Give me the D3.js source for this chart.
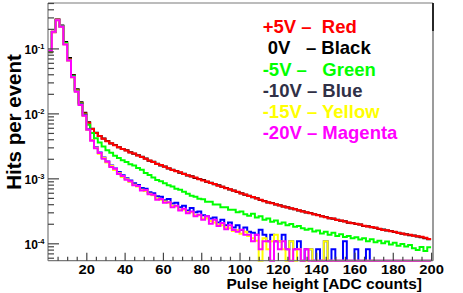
<!DOCTYPE html>
<html><head><meta charset="utf-8">
<script src="https://cdn.jsdelivr.net/npm/d3@7"></script>
<style>
html,body{margin:0;padding:0;background:#fff;}
svg{display:block;font-family:"Liberation Sans",Arial,sans-serif;font-weight:bold;}
</style></head><body>
<svg id="c" width="463" height="293"></svg>
<script>
// ---- data (hits per event, bins of 2 ADC counts from 0 to 200) ----
const binWidth = 2;
const red = [8.9e-2,1.78e-1,2.75e-1,2.19e-1,1.2e-1,6.8e-2,3.8e-2,2.29e-2,1.45e-2,1.0e-2,
7.2e-3,5.75e-3,5.0e-3,4.47e-3,4.07e-3,3.72e-3,3.47e-3,3.24e-3,3.02e-3,2.82e-3,
2.69e-3,2.51e-3,2.42e-3,2.24e-3,2.14e-3,2.0e-3,1.88e-3,1.78e-3,1.66e-3,1.6e-3,
1.51e-3,1.43e-3,1.35e-3,1.29e-3,1.24e-3,1.17e-3,1.12e-3,1.07e-3,1.03e-3,9.7e-4,
9.3e-4,8.95e-4,8.5e-4,8.15e-4,7.7e-4,7.45e-4,7.05e-4,6.8e-4,6.45e-4,6.2e-4,
5.85e-4,5.65e-4,5.35e-4,5.15e-4,4.88e-4,4.7e-4,4.45e-4,4.3e-4,4.15e-4,3.98e-4,
3.82e-4,3.7e-4,3.56e-4,3.45e-4,3.33e-4,3.22e-4,3.1e-4,3.0e-4,2.9e-4,2.8e-4,
2.7e-4,2.62e-4,2.52e-4,2.44e-4,2.41e-4,2.28e-4,2.25e-4,2.17e-4,2.1e-4,2.03e-4,
2.0e-4,1.94e-4,1.87e-4,1.81e-4,1.79e-4,1.73e-4,1.67e-4,1.61e-4,1.59e-4,1.54e-4,
1.51e-4,1.44e-4,1.42e-4,1.37e-4,1.35e-4,1.31e-4,1.28e-4,1.26e-4,1.22e-4,1.17e-4];
const black = [8.7e-2,1.8e-1,2.78e-1,2.25e-1,1.25e-1,7.1e-2,3.9e-2,2.35e-2,1.48e-2,1.02e-2,
7.3e-3,5.8e-3,5.05e-3,4.5e-3,4.1e-3,3.75e-3,3.45e-3,3.25e-3,3.0e-3,2.84e-3,
2.7e-3,2.53e-3,2.4e-3,2.26e-3,2.15e-3,2.02e-3,1.87e-3,1.8e-3,1.68e-3,1.58e-3,
1.52e-3,1.42e-3,1.36e-3,1.3e-3,1.22e-3,1.18e-3,1.11e-3,1.08e-3,1.01e-3,9.8e-4,
9.4e-4,8.85e-4,8.55e-4,8.1e-4,7.8e-4,7.4e-4,7.1e-4,6.75e-4,6.5e-4,6.15e-4,
5.9e-4,5.6e-4,5.4e-4,5.1e-4,4.92e-4,4.65e-4,4.5e-4,4.25e-4,4.18e-4,3.95e-4,
3.85e-4,3.68e-4,3.58e-4,3.42e-4,3.35e-4,3.2e-4,3.12e-4,2.98e-4,2.92e-4,2.79e-4,
2.72e-4,2.6e-4,2.54e-4,2.43e-4,2.38e-4,2.3e-4,2.23e-4,2.18e-4,2.08e-4,2.05e-4,
1.98e-4,1.95e-4,1.85e-4,1.83e-4,1.77e-4,1.74e-4,1.66e-4,1.63e-4,1.57e-4,1.55e-4,
1.49e-4,1.46e-4,1.4e-4,1.38e-4,1.33e-4,1.32e-4,1.27e-4,1.24e-4,1.2e-4,1.15e-4];
const green = [9.0e-2,1.79e-1,2.74e-1,2.2e-1,1.21e-1,6.7e-2,3.75e-2,2.25e-2,1.42e-2,9.6e-3,
6.7e-3,5.0e-3,4.15e-3,3.55e-3,3.1e-3,2.7e-3,2.47e-3,2.22e-3,2.06e-3,1.9e-3,
1.79e-3,1.65e-3,1.57e-3,1.44e-3,1.36e-3,1.21e-3,1.13e-3,1.03e-3,9.4e-4,9.0e-4,
8.4e-4,7.8e-4,7.5e-4,6.9e-4,6.7e-4,6.2e-4,5.8e-4,5.4e-4,5.2e-4,4.85e-4,
4.75e-4,4.35e-4,4.35e-4,3.95e-4,3.95e-4,3.6e-4,3.6e-4,3.3e-4,3.3e-4,3.0e-4,
3.1e-4,2.8e-4,2.65e-4,2.85e-4,2.5e-4,2.6e-4,2.3e-4,2.4e-4,2.15e-4,2.25e-4,
2.0e-4,2.1e-4,1.9e-4,1.98e-4,1.8e-4,1.85e-4,1.7e-4,1.62e-4,1.68e-4,1.52e-4,
1.58e-4,1.42e-4,1.5e-4,1.36e-4,1.45e-4,1.3e-4,1.38e-4,1.25e-4,1.3e-4,1.2e-4,
1.24e-4,1.14e-4,1.2e-4,1.08e-4,1.16e-4,1.04e-4,1.1e-4,1.0e-4,1.07e-4,9.6e-5,
1.02e-4,9.2e-5,9.8e-5,8.9e-5,9.4e-5,8.4e-5,7.9e-5,8.8e-5,7.6e-5,8.7e-5];
const blue = [9.1e-2,1.79e-1,2.73e-1,2.17e-1,1.17e-1,6.6e-2,3.65e-2,2.2e-2,1.38e-2,9.4e-3,
5.7e-3,3.9e-3,3.0e-3,2.5e-3,2.1e-3,1.82e-3,1.58e-3,1.42e-3,1.25e-3,1.12e-3,
1.0e-3,9.3e-4,8.4e-4,7.9e-4,7.1e-4,6.9e-4,6.1e-4,5.9e-4,5.3e-4,5.2e-4,
4.6e-4,4.8e-4,4.1e-4,4.2e-4,3.6e-4,3.8e-4,3.2e-4,3.5e-4,3.0e-4,3.1e-4,
2.7e-4,2.6e-4,2.4e-4,2.5e-4,2.1e-4,2.3e-4,1.9e-4,2.1e-4,1.75e-4,1.9e-4,
1.6e-4,1.75e-4,1.5e-4,1.45e-4,1.35e-4,1.62e-4,1.35e-4,1.08e-4,1.35e-4,1.08e-4,
1.08e-4,1.35e-4,8.1e-5,1.08e-4,8.1e-5,1.08e-4,5.4e-5,8.1e-5,8.1e-5,5.4e-5,
8.1e-5,5.4e-5,1.08e-4,2.7e-5,8.1e-5,5.4e-5,5.4e-5,1.08e-4,2.7e-5,5.4e-5,
8.1e-5,2.7e-5,5.4e-5,8.1e-5,0,0,0,0,0,0,
0,0,0,0,0,0,0,0,0,0];
const yellow = [9.2e-2,1.8e-1,2.72e-1,2.16e-1,1.16e-1,6.5e-2,3.6e-2,2.17e-2,1.36e-2,9.2e-3,
5.6e-3,3.85e-3,2.95e-3,2.4e-3,2.05e-3,1.75e-3,1.55e-3,1.35e-3,1.2e-3,1.05e-3,
9.7e-4,8.8e-4,8.0e-4,7.5e-4,6.7e-4,6.4e-4,5.8e-4,5.5e-4,4.9e-4,4.7e-4,
4.4e-4,4.2e-4,3.8e-4,3.7e-4,3.3e-4,3.3e-4,3.0e-4,3.0e-4,2.7e-4,2.7e-4,
2.4e-4,2.4e-4,2.2e-4,2.1e-4,1.95e-4,1.9e-4,1.75e-4,1.7e-4,1.55e-4,1.6e-4,
1.4e-4,1.5e-4,1.3e-4,1.2e-4,1.1e-4,4.0e-5,1.2e-4,8.1e-5,1.08e-4,1.35e-4,
1.08e-4,8.1e-5,5.4e-5,1.08e-4,5.4e-5,8.1e-5,5.4e-5,5.4e-5,8.1e-5,2.7e-5,
5.4e-5,2.7e-5,1.08e-4,2.7e-5,5.4e-5,0,2.7e-5,0,0,0,
0,0,0,0,0,0,0,0,0,0,
0,0,0,0,0,5.4e-5,0,0,0,0];
const magenta = [9.2e-2,1.8e-1,2.72e-1,2.15e-1,1.15e-1,6.5e-2,3.6e-2,2.15e-2,1.35e-2,9.2e-3,
5.6e-3,3.8e-3,2.9e-3,2.45e-3,2.0e-3,1.8e-3,1.5e-3,1.4e-3,1.17e-3,1.09e-3,
9.5e-4,9.0e-4,7.8e-4,7.6e-4,6.5e-4,6.6e-4,5.7e-4,5.6e-4,4.7e-4,4.8e-4,
4.2e-4,4.3e-4,3.6e-4,3.8e-4,3.2e-4,3.4e-4,2.9e-4,3.1e-4,2.6e-4,2.75e-4,
2.3e-4,2.6e-4,2.0e-4,2.3e-4,1.85e-4,2.05e-4,1.65e-4,1.9e-4,1.6e-4,1.5e-4,
1.62e-4,1.35e-4,1.35e-4,1.08e-4,1.35e-4,8.1e-5,1.08e-4,1.08e-4,5.4e-5,1.08e-4,
8.1e-5,1.08e-4,8.1e-5,5.4e-5,8.1e-5,8.1e-5,5.4e-5,8.1e-5,2.7e-5,0,
0,0,2.7e-5,0,0,0,5.4e-5,0,0,0,
0,0,0,2.7e-5,0,0,0,0,0,0,
0,0,0,0,0,0,0,0,0,0];

const seriesNames  = ["0V","+5V","-5V","-10V","-15V","-20V"];
const seriesValues = [black, red, green, blue, yellow, magenta];
const seriesColors = ["#000000","#ff0000","#00ff00","#0000ff","#ffff00","#ff00ff"];

const legendLeft   = ["+5V \u2013  ", " 0V   \u2013 ", "-5V \u2013   ", "-10V \u2013 ", "-15V \u2013 ", "-20V \u2013 "];
const legendRight  = ["Red", "Black", "Green", "Blue", "Yellow", "Magenta"];
const legendColors = ["#ff0000","#000000","#00ff00","#303046","#ffff00","#ff00ff"];

const xMajorTicks = [20,40,60,80,100,120,140,160,180,200];
const yMajorTicks = [1e-4,1e-3,1e-2,1e-1];
const yTickExp    = ["-4","-3","-2","-1"];
const xTitle = "Pulse height [ADC counts]";
const yTitle = "Hits per event";

// ---- layout ----
const svg = d3.select("#c");
const L = 48, R = 433, T = 3, B = 260.7;
const x = d3.scaleLinear().domain([0, 201]).range([L, R]);
const y = d3.scaleLog().domain([5.4e-5, 0.5]).range([B, T]);
const yMin = y.domain()[0];

// ---- histograms ----
svg.append("clipPath").attr("id","pc").append("rect")
  .attr("x", L).attr("y", T).attr("width", R - L).attr("height", B - T + 1.5);
const line = d3.line().x(d => d[0]).y(d => d[1]);
const gH = svg.append("g").attr("clip-path","url(#pc)");
seriesValues.forEach((vals, si) => {
  const pts = [];
  vals.forEach((v, i) => {
    const yy = y(Math.max(v, yMin));
    pts.push([x(i * binWidth), yy]);
    pts.push([x((i + 1) * binWidth), yy]);
  });
  gH.append("path").attr("d", line(pts)).attr("fill","none")
    .attr("stroke", seriesColors[si]).attr("stroke-width", 2)
    .attr("stroke-linejoin","miter");
});

// ---- frame ----
const axisCol = "#7a7a7a";
svg.append("line").attr("x1", L).attr("x2", R).attr("y1", T).attr("y2", T).attr("stroke", axisCol).attr("stroke-width", 1.2);
svg.append("line").attr("x1", R).attr("x2", R).attr("y1", T).attr("y2", B).attr("stroke", axisCol).attr("stroke-width", 1.5);
svg.append("line").attr("x1", R).attr("x2", R).attr("y1", T).attr("y2", 31).attr("stroke", "#000").attr("stroke-width", 1.5);
svg.append("line").attr("x1", L).attr("x2", L).attr("y1", T).attr("y2", B).attr("stroke", axisCol).attr("stroke-width", 1.2);
svg.append("line").attr("x1", L).attr("x2", R).attr("y1", B).attr("y2", B).attr("stroke", axisCol).attr("stroke-width", 1.2);

// ---- x axis ----
const xMinor = d3.range(5, 201, 5).filter(v => v % 20 !== 0);
const gxm = svg.append("g").attr("transform", `translate(0,${B})`)
  .call(d3.axisBottom(x).tickValues(xMinor).tickSize(-4).tickFormat(""));
const gx = svg.append("g").attr("transform", `translate(0,${B})`)
  .call(d3.axisBottom(x).tickValues(xMajorTicks).tickSize(-8).tickPadding(4));
[gxm, gx].forEach(g => { g.select(".domain").remove(); g.selectAll("line").attr("stroke", "#444").attr("stroke-width", 1.2); });
gx.selectAll("text").attr("font-size", 12.5).attr("font-weight","bold").attr("fill","#000")
  .attr("font-family", '"Liberation Sans",Arial,sans-serif')
  .attr("transform", "scale(1.18,1)");

// ---- y axis ----
const yMinorVals = [];
[1e-5,1e-4,1e-3,1e-2,1e-1].forEach(d => { for (let k = 2; k <= 9; k++) { const v = d * k; if (v >= yMin && v <= 0.5) yMinorVals.push(v); } });
const gym = svg.append("g").attr("transform", `translate(${L},0)`)
  .call(d3.axisLeft(y).tickValues(yMinorVals).tickSize(-6).tickFormat(""));
const gy = svg.append("g").attr("transform", `translate(${L},0)`)
  .call(d3.axisLeft(y).tickValues(yMajorTicks).tickSize(-11).tickFormat(""));
[gym, gy].forEach(g => { g.select(".domain").remove(); g.selectAll("line").attr("stroke", "#444").attr("stroke-width", 1.2); });
const yl = svg.append("g").selectAll("text").data(yMajorTicks).join("text")
  .attr("x", 44.5).attr("y", d => y(d) + 5.7).attr("text-anchor","end").attr("fill","#000");
yl.append("tspan").attr("font-size", 12).text("10");
yl.append("tspan").attr("font-size", 7.5).attr("dy", -5.5).text((d, i) => yTickExp[i]);

// ---- titles ----
svg.append("text").attr("x", 422).attr("y", 289).attr("text-anchor","end")
  .attr("font-size", 15.5).attr("fill","#000").text(xTitle);
svg.append("text").attr("transform","translate(20.5,122) rotate(-90)").attr("text-anchor","middle")
  .attr("font-size", 20.5).attr("fill","#000").text(yTitle);

// ---- legend ----
const lg = svg.append("g").attr("font-size", 18.5).style("white-space","pre");
legendLeft.forEach((s, i) => {
  const t = lg.append("text").attr("x", 262.7).attr("y", 33.3 + i * 21.1).attr("xml:space","preserve");
  t.append("tspan").attr("fill", legendColors[i]).text(s);
  t.append("tspan").attr("fill", legendColors[i]).text(legendRight[i]);
});
</script>
</body></html>
